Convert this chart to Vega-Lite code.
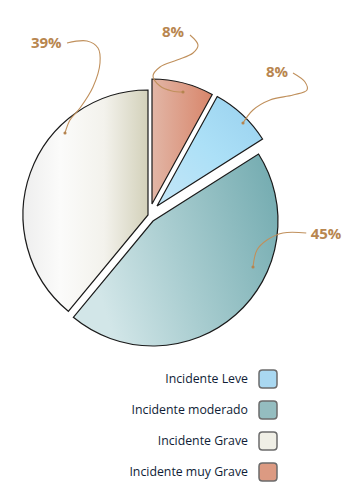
{
  "$schema": "https://vega.github.io/schema/vega-lite/v6.json",
  "width": 351,
  "height": 498,
  "autosize": {"type": "fit", "contains": "padding"},
  "padding": 0,
  "background": "white",
  "config": {"view": {"stroke": null}},
  "datasets": {
    "slices": [
      {"cat": "Incidente muy Grave", "pct": 8, "ord": 1},
      {"cat": "Incidente Leve", "pct": 8, "ord": 2},
      {"cat": "Incidente moderado", "pct": 45, "ord": 3},
      {"cat": "Incidente Grave", "pct": 39, "ord": 4}
    ],
    "labels": [
      {"text": "39%", "x": -0.83, "y": 1.368},
      {"text": "8%", "x": 0.184, "y": 1.456},
      {"text": "8%", "x": 1.016, "y": 1.136},
      {"text": "45%", "x": 1.408, "y": -0.16}
    ],
    "leaders": [
      {"id": "a", "i": 1, "x": -0.664, "y": 1.368},
      {"id": "a", "i": 2, "x": -0.504, "y": 1.384},
      {"id": "a", "i": 3, "x": -0.416, "y": 1.328},
      {"id": "a", "i": 4, "x": -0.4, "y": 1.208},
      {"id": "a", "i": 5, "x": -0.456, "y": 1.016},
      {"id": "a", "i": 6, "x": -0.56, "y": 0.848},
      {"id": "a", "i": 7, "x": -0.64, "y": 0.752},
      {"id": "a", "i": 8, "x": -0.68, "y": 0.648},
      {"id": "b", "i": 1, "x": 0.32, "y": 1.432},
      {"id": "b", "i": 2, "x": 0.384, "y": 1.352},
      {"id": "b", "i": 3, "x": 0.344, "y": 1.288},
      {"id": "b", "i": 4, "x": 0.216, "y": 1.232},
      {"id": "b", "i": 5, "x": 0.08, "y": 1.176},
      {"id": "b", "i": 6, "x": 0.024, "y": 1.104},
      {"id": "b", "i": 7, "x": 0.08, "y": 1.024},
      {"id": "b", "i": 8, "x": 0.176, "y": 0.984},
      {"id": "b", "i": 9, "x": 0.264, "y": 0.976},
      {"id": "c", "i": 1, "x": 1.144, "y": 1.128},
      {"id": "c", "i": 2, "x": 1.24, "y": 1.056},
      {"id": "c", "i": 3, "x": 1.256, "y": 0.992},
      {"id": "c", "i": 4, "x": 1.144, "y": 0.952},
      {"id": "c", "i": 5, "x": 0.96, "y": 0.912},
      {"id": "c", "i": 6, "x": 0.824, "y": 0.832},
      {"id": "c", "i": 7, "x": 0.744, "y": 0.728},
      {"id": "d", "i": 1, "x": 1.25, "y": -0.152},
      {"id": "d", "i": 2, "x": 1.064, "y": -0.152},
      {"id": "d", "i": 3, "x": 0.936, "y": -0.208},
      {"id": "d", "i": 4, "x": 0.856, "y": -0.288},
      {"id": "d", "i": 5, "x": 0.824, "y": -0.424}
    ]
  },
  "layer": [
    {
      "data": {"name": "slices"},
      "transform": [
        {"stack": "pct", "groupby": [], "sort": [{"field": "ord", "order": "ascending"}], "as": ["start", "end"]}
      ],
      "mark": {"type": "arc", "radius": 120, "opacity": 0},
      "encoding": {
        "x": {"datum": 0, "type": "quantitative", "scale": {"domain": [-1.2, 1.608], "nice": false, "zero": false}, "axis": null},
        "y": {"datum": 0, "type": "quantitative", "scale": {"domain": [-2.272, 1.712], "nice": false, "zero": false}, "axis": null},
        "theta": {"field": "start", "type": "quantitative", "scale": {"domain": [0, 100], "range": [0, 6.283185]}},
        "theta2": {"field": "end"},
        "color": {
          "field": "cat", "type": "nominal",
          "scale": {
            "domain": ["Incidente Leve", "Incidente moderado", "Incidente Grave", "Incidente muy Grave"],
            "range": ["#a9d8f1", "#94bdc0", "#f0efe6", "#dc9a82"]
          },
          "legend": {
            "orient": "none", "legendX": 258, "legendY": 369, "title": null, "direction": "vertical",
            "symbolType": "M -0.62,-1 L 0.62,-1 Q 1,-1 1,-0.62 L 1,0.62 Q 1,1 0.62,1 L -0.62,1 Q -1,1 -1,0.62 L -1,-0.62 Q -1,-1 -0.62,-1 Z",
            "symbolSize": 324, "symbolStrokeColor": "#6b6b6b", "symbolStrokeWidth": 1.5, "symbolOpacity": 1,
            "labelAlign": "right", "labelOffset": -30, "labelFont": "Open Sans", "labelFontSize": 12.3,
            "labelColor": "#0f1d36", "rowPadding": 7, "labelLimit": 220
          }
        }
      }
    },
    {
      "data": {"name": "slices"},
      "transform": [
        {"stack": "pct", "groupby": [], "sort": [{"field": "ord", "order": "ascending"}], "as": ["start", "end"]},
        {"filter": "datum.ord == 4"}
      ],
      "mark": {"type": "arc", "radius": 125, "stroke": "#1a1a1a", "strokeWidth": 1.2,
        "color": {"gradient": "linear", "x1": 0, "y1": 0, "x2": 1, "y2": 0,
          "stops": [{"offset": 0, "color": "#eeeeee"}, {"offset": 0.3, "color": "#fbfbfa"}, {"offset": 0.65, "color": "#f3f2ec"}, {"offset": 1, "color": "#d3d1ba"}]}},
      "encoding": {
        "x": {"datum": -0.016, "type": "quantitative", "scale": {"domain": [-1.2, 1.608], "nice": false, "zero": false}, "axis": null},
        "y": {"datum": -0.008, "type": "quantitative", "scale": {"domain": [-2.272, 1.712], "nice": false, "zero": false}, "axis": null},
        "theta": {"field": "start", "type": "quantitative", "scale": {"domain": [0, 100], "range": [0, 6.283185]}},
        "theta2": {"field": "end"}
      }
    },
    {
      "data": {"name": "slices"},
      "transform": [
        {"stack": "pct", "groupby": [], "sort": [{"field": "ord", "order": "ascending"}], "as": ["start", "end"]},
        {"filter": "datum.ord == 1"}
      ],
      "mark": {"type": "arc", "radius": 125, "stroke": "#1a1a1a", "strokeWidth": 1.2,
        "color": {"gradient": "linear", "x1": 0, "y1": 0, "x2": 1, "y2": 0,
          "stops": [{"offset": 0, "color": "#e2b6a6"}, {"offset": 1, "color": "#d8856a"}]}},
      "encoding": {
        "x": {"datum": 0.016, "type": "quantitative", "scale": {"domain": [-1.2, 1.608], "nice": false, "zero": false}, "axis": null},
        "y": {"datum": 0.08, "type": "quantitative", "scale": {"domain": [-2.272, 1.712], "nice": false, "zero": false}, "axis": null},
        "theta": {"field": "start", "type": "quantitative", "scale": {"domain": [0, 100], "range": [0, 6.283185]}},
        "theta2": {"field": "end"}
      }
    },
    {
      "data": {"name": "slices"},
      "transform": [
        {"stack": "pct", "groupby": [], "sort": [{"field": "ord", "order": "ascending"}], "as": ["start", "end"]},
        {"filter": "datum.ord == 2"}
      ],
      "mark": {"type": "arc", "radius": 125, "stroke": "#1a1a1a", "strokeWidth": 1.2,
        "color": {"gradient": "linear", "x1": 0, "y1": 1, "x2": 1, "y2": 0,
          "stops": [{"offset": 0, "color": "#c4e6f7"}, {"offset": 0.5, "color": "#ace0f7"}, {"offset": 1, "color": "#98d0ee"}]}},
      "encoding": {
        "x": {"datum": 0.056, "type": "quantitative", "scale": {"domain": [-1.2, 1.608], "nice": false, "zero": false}, "axis": null},
        "y": {"datum": 0.064, "type": "quantitative", "scale": {"domain": [-2.272, 1.712], "nice": false, "zero": false}, "axis": null},
        "theta": {"field": "start", "type": "quantitative", "scale": {"domain": [0, 100], "range": [0, 6.283185]}},
        "theta2": {"field": "end"}
      }
    },
    {
      "data": {"name": "slices"},
      "transform": [
        {"stack": "pct", "groupby": [], "sort": [{"field": "ord", "order": "ascending"}], "as": ["start", "end"]},
        {"filter": "datum.ord == 3"}
      ],
      "mark": {"type": "arc", "radius": 125, "stroke": "#1a1a1a", "strokeWidth": 1.2,
        "color": {"gradient": "linear", "x1": 0, "y1": 0.3, "x2": 1, "y2": 0,
          "stops": [{"offset": 0, "color": "#d2e6e8"}, {"offset": 0.4, "color": "#a9cdd0"}, {"offset": 1, "color": "#70a9ae"}]}},
      "encoding": {
        "x": {"datum": 0.024, "type": "quantitative", "scale": {"domain": [-1.2, 1.608], "nice": false, "zero": false}, "axis": null},
        "y": {"datum": -0.056, "type": "quantitative", "scale": {"domain": [-2.272, 1.712], "nice": false, "zero": false}, "axis": null},
        "theta": {"field": "start", "type": "quantitative", "scale": {"domain": [0, 100], "range": [0, 6.283185]}},
        "theta2": {"field": "end"}
      }
    },
    {
      "data": {"name": "leaders"},
      "mark": {"type": "line", "interpolate": "catmull-rom", "color": "#c0905c", "strokeWidth": 1.1},
      "encoding": {
        "x": {"field": "x", "type": "quantitative", "scale": {"domain": [-1.2, 1.608], "nice": false, "zero": false}, "axis": null},
        "y": {"field": "y", "type": "quantitative", "scale": {"domain": [-2.272, 1.712], "nice": false, "zero": false}, "axis": null},
        "detail": {"field": "id"},
        "order": {"field": "i", "type": "quantitative"}
      }
    },
    {
      "data": {"name": "leaders"},
      "transform": [
        {"joinaggregate": [{"op": "max", "field": "i", "as": "last"}], "groupby": ["id"]},
        {"filter": "datum.i == datum.last"}
      ],
      "mark": {"type": "point", "filled": true, "size": 10, "color": "#b5844f", "opacity": 1},
      "encoding": {
        "x": {"field": "x", "type": "quantitative", "scale": {"domain": [-1.2, 1.608], "nice": false, "zero": false}, "axis": null},
        "y": {"field": "y", "type": "quantitative", "scale": {"domain": [-2.272, 1.712], "nice": false, "zero": false}, "axis": null}
      }
    },
    {
      "data": {"name": "labels"},
      "mark": {"type": "text", "font": "Open Sans", "fontWeight": "bold", "fontSize": 15, "color": "#b8864f", "align": "center", "baseline": "middle"},
      "encoding": {
        "x": {"field": "x", "type": "quantitative", "scale": {"domain": [-1.2, 1.608], "nice": false, "zero": false}, "axis": null},
        "y": {"field": "y", "type": "quantitative", "scale": {"domain": [-2.272, 1.712], "nice": false, "zero": false}, "axis": null},
        "text": {"field": "text", "type": "nominal"}
      }
    }
  ]
}
